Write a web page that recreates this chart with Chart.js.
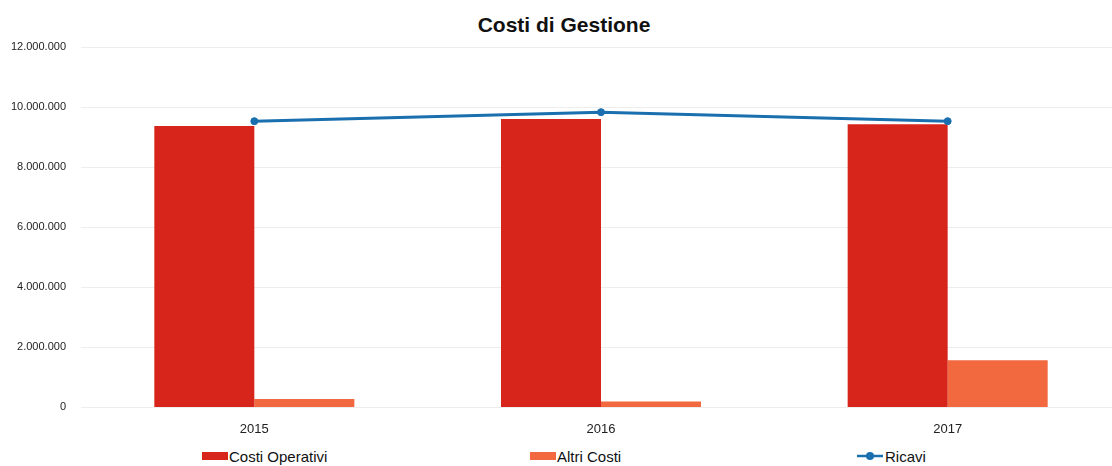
<!DOCTYPE html>
<html>
<head>
<meta charset="utf-8">
<script src="https://cdn.jsdelivr.net/npm/chart.js@4/dist/chart.umd.min.js"></script>
<style>
  html, body { margin: 0; padding: 0; background: #fff; overflow: hidden; }
  body { width: 1112px; height: 466px; position: relative; font-family: "Liberation Sans", Arial, sans-serif; }
  #wrap { position: absolute; left: 0; top: 0; width: 1126px; height: 443px; }
  #title { position: absolute; left: 0; width: 1128px; top: 13px; text-align: center; font-weight: bold; font-size: 21px; color: #111; }
  .leg { position: absolute; top: 447px; font-size: 15px; color: #111; display: flex; align-items: center; height: 18px; }
  .box { width: 26px; height: 8px; margin-right: 1px; }
</style>
</head>
<body>
<div id="title">Costi di Gestione</div>
<div id="wrap"><canvas id="c" width="1126" height="443"></canvas></div>
<div class="leg" style="left:202px"><span class="box" style="background:#d8251c"></span>Costi Operativi</div>
<div class="leg" style="left:530px"><span class="box" style="background:#f2683f"></span>Altri Costi</div>
<div class="leg" style="left:857px"><svg width="26" height="12" style="margin-right:2px"><line x1="0" y1="6" x2="26" y2="6" stroke="#1a6fae" stroke-width="2.5"/><circle cx="13" cy="6" r="4" fill="#1a6fae"/></svg>Ricavi</div>
<script>
const categories = ["2015", "2016", "2017"];
const costiOperativi = [9370000, 9600000, 9430000];
const altriCosti = [280000, 200000, 1570000];
const ricavi = [9530000, 9830000, 9530000];
const yTicks = [0, 2000000, 4000000, 6000000, 8000000, 10000000, 12000000];

function fmt(v) {
  return String(v).replace(/\B(?=(\d{3})+(?!\d))/g, ".");
}

new Chart(document.getElementById("c"), {
  data: {
    labels: categories,
    datasets: [
      { type: "line", label: "Ricavi", data: ricavi, borderColor: "#1a6fae", backgroundColor: "#1a6fae",
        borderWidth: 3, pointRadius: 3.5, pointBorderWidth: 1, pointBackgroundColor: "#1a6fae", tension: 0, order: 0 },
      { type: "bar", label: "Costi Operativi", data: costiOperativi, backgroundColor: "#d8251c",
        barPercentage: 1, categoryPercentage: 0.577, order: 1 },
      { type: "bar", label: "Altri Costi", data: altriCosti, backgroundColor: "#f2683f",
        barPercentage: 1, categoryPercentage: 0.577, order: 1 }
    ]
  },
  options: {
    responsive: false,
    animation: false,
    layout: { padding: { top: 47, left: 0, right: 0, bottom: 0 } },
    plugins: { legend: { display: false }, title: { display: false }, tooltip: { enabled: false } },
    scales: {
      x: {
        grid: { display: false },
        border: { display: false },
        ticks: { color: "#222", font: { family: "Liberation Sans", size: 13 }, padding: 6 }
      },
      y: {
        min: 0, max: 12000000,
        afterBuildTicks: (axis) => { axis.ticks = yTicks.map(v => ({ value: v })); },
        afterFit: (axis) => { axis.width = 81; },
        border: { display: false },
        grid: { color: "rgba(0,0,0,0.07)", drawTicks: false, lineWidth: 1 },
        ticks: { color: "#222", font: { family: "Liberation Sans", size: 11 }, padding: 15, callback: (v) => fmt(v) }
      }
    }
  }
});
</script>
</body>
</html>
